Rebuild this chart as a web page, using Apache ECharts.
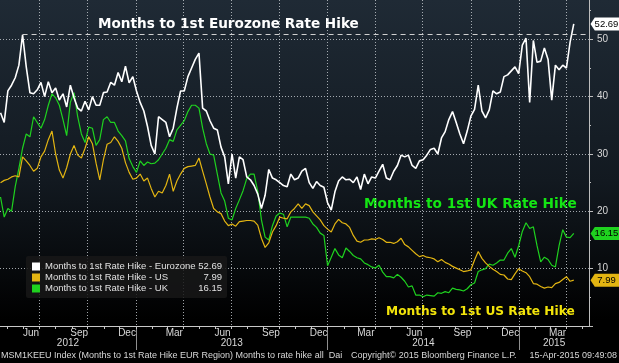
<!DOCTYPE html>
<html><head><meta charset="utf-8">
<script src="https://cdn.jsdelivr.net/npm/echarts@6/dist/echarts.min.js"></script>
<style>html,body{margin:0;padding:0;background:#000}#c{width:619px;height:363px}</style>
</head><body><div id="c"></div>
<script>
// ---------- data (weekly readings, first reading 2012-04-18) ----------
const seriesNames = ['Months to 1st Rate Hike - Eurozone', 'Months to 1st Rate Hike - US', 'Months to 1st Rate Hike - UK'];
const firstDate = '2012-04-18';
const eurozone = [37.2,35.5,41.0,42.0,43.3,45.5,50.8,45.2,40.7,40.5,41.2,42.5,40.0,42.6,40.7,41.5,39.4,40.5,38.2,42.0,
39.8,38.0,37.5,39.2,37.7,40.0,38.5,38.5,40.7,40.8,42.5,42.0,44.2,42.6,45.3,42.4,43.5,41.0,39.0,37.5,
34.8,31.5,30.0,36.5,36.0,35.5,33.0,34.5,38.0,41.0,41.0,43.5,45.0,46.5,47.6,38.0,37.5,35.8,34.5,34.2,
31.2,29.5,24.8,30.0,25.8,29.5,29.0,26.0,25.5,24.5,23.0,20.5,22.8,27.3,25.8,25.5,25.0,24.5,24.3,26.5,
25.5,25.8,27.0,27.5,25.0,24.0,25.2,24.5,24.2,21.5,20.2,23.4,25.3,26.0,25.5,25.6,25.0,26.0,23.8,26.5,
24.8,26.0,25.8,27.0,28.2,25.8,25.5,27.0,28.0,29.8,29.5,29.8,28.0,27.5,28.8,29.0,29.8,30.8,31.0,30.0,
32.8,33.9,36.0,37.4,35.5,33.5,31.8,34.0,36.6,37.8,42.0,37.5,36.3,37.7,41.0,40.5,40.8,43.5,43.8,44.5,
45.2,44.0,49.0,50.2,39.0,49.8,46.0,46.2,48.5,46.5,39.4,45.5,44.7,45.5,45.0,49.5,52.69];
const us = [25.0,25.4,25.6,26.0,26.2,26.0,29.5,28.8,28.0,27.0,27.5,29.5,30.5,32.5,34.0,30.0,27.2,25.8,27.6,30.0,
31.5,29.8,29.3,31.0,33.0,31.8,28.4,25.5,29.0,31.7,32.0,33.0,32.2,31.0,28.5,26.8,25.6,25.8,26.5,25.3,
25.8,24.0,22.5,23.5,23.2,24.5,26.5,23.5,25.3,26.5,27.5,27.8,27.9,28.0,29.3,27.0,24.8,22.5,20.5,19.9,
19.6,18.3,17.5,17.8,17.4,18.2,18.3,18.4,18.4,18.3,17.6,15.3,13.7,14.5,16.4,17.5,19.0,18.8,18.7,19.9,
20.5,21.3,20.5,21.3,21.0,19.9,19.2,18.5,17.5,16.9,16.4,17.8,18.6,18.0,17.8,17.2,15.8,14.8,14.6,15.0,
15.0,15.2,15.1,15.4,15.1,14.6,14.6,14.4,14.7,15.3,14.2,13.8,13.2,12.6,12.1,12.3,12.0,11.9,11.7,11.2,
11.6,11.1,10.8,10.4,10.1,9.8,9.5,9.6,9.8,11.5,13.0,11.8,11.0,10.4,9.9,9.5,9.0,8.9,8.2,8.1,
9.1,10.0,9.6,9.3,8.6,7.4,7.3,6.9,6.6,6.8,6.7,7.4,7.6,8.1,8.6,7.8,7.99];
const uk = [22.5,19.0,20.5,20.0,24.3,27.5,31.0,33.5,33.0,36.5,35.5,34.5,36.0,38.5,40.5,39.8,38.5,36.0,33.2,39.0,
40.7,36.5,33.5,32.0,34.7,34.5,31.5,32.5,36.0,36.5,35.5,35.5,34.0,33.2,32.3,29.2,27.8,26.8,28.8,28.0,
28.6,28.3,28.4,29.0,30.0,31.0,32.5,32.2,34.2,35.0,35.8,37.4,38.5,38.5,38.0,34.5,31.8,30.0,29.8,26.5,
23.2,21.8,18.8,18.5,20.5,22.0,23.6,25.7,26.5,26.5,23.5,18.5,15.5,15.0,17.5,19.2,19.7,19.5,17.3,19.0,
19.0,19.0,19.0,19.0,18.8,17.8,17.2,16.2,15.8,10.5,12.0,13.5,12.4,11.9,13.6,13.0,12.3,11.9,11.7,11.0,
10.7,10.3,10.1,10.6,9.4,8.6,8.6,8.4,9.0,8.5,7.8,6.8,7.0,5.4,5.4,5.1,5.4,5.3,5.2,5.8,
5.7,6.0,5.8,6.6,6.4,6.3,6.1,6.5,7.2,7.5,9.5,9.8,10.0,10.8,10.6,11.0,11.5,11.5,12.7,13.5,
12.0,14.0,16.5,18.0,17.0,17.3,14.0,11.2,12.0,11.6,10.6,10.3,14.0,16.8,15.5,15.4,16.15];

// ---------- axis / tick labels ----------
const axisStart = '2012-04-17', axisEnd = '2015-05-14';
const monthLabelDates = ['2012-06-15','2012-09-15','2012-12-15','2013-03-15','2013-06-15','2013-09-15','2013-12-15','2014-03-15','2014-06-15','2014-09-15','2014-12-15','2015-03-15'];
const monthLabelTexts = ['Jun','Sep','Dec','Mar','Jun','Sep','Dec','Mar','Jun','Sep','Dec','Mar'];
const quarterLines = ['2012-07-01','2012-10-01','2013-01-01','2013-04-01','2013-07-01','2013-10-01','2014-01-01','2014-04-01','2014-07-01','2014-10-01','2015-01-01','2015-04-01'];
const yearBreaks = ['2013-01-01','2014-01-01','2015-01-01'];
const yearLabels = ['2012','2013','2014','2015'];
const yTicks = {min: 0, max: 60, interval: 10};

// ---------- helpers ----------
const ts = s => { const [y, m, d] = s.split('-').map(Number); return Date.UTC(y, m - 1, d); };
const f0 = firstDate.split('-').map(Number);
const dates = eurozone.map((_, i) => Date.UTC(f0[0], f0[1] - 1, f0[2] + 7 * i));
const pairs = vals => vals.map((v, i) => [dates[i], v]);
const X_MIN = ts(axisStart), X_MAX = ts(axisEnd);
const monthLabelTs = monthLabelDates.map(ts);
const quarterTs = quarterLines.map(ts);
const monthStarts = [];
for (let k = 0; ; k++) { const t = Date.UTC(2012, 4 + k, 1); if (t > X_MAX) break; monthStarts.push(t); }
const yearBreakTs = yearBreaks.map(ts);
const bounds = [X_MIN, ...yearBreakTs, X_MAX];
const yearLabelTs = yearLabels.map((_, i) => Math.round((bounds[i] + bounds[i + 1]) / 2));
const last = a => a[a.length - 1];
const lastVals = {[seriesNames[0]]: last(eurozone), [seriesNames[1]]: last(us), [seriesNames[2]]: last(uk)};
const hist = eurozone.slice(0, -1);
const peakVal = Math.max(...hist);
const peakIdx = hist.indexOf(peakVal);

const FONT = '"Liberation Sans", Arial, sans-serif';
const TITLE_FONT = '"DejaVu Sans", sans-serif';
const COL = {eu: '#ffffff', us: '#e3b512', uk: '#1fd21f'};
const gridLine = {color: 'rgba(200,205,210,0.8)', width: 1, type: [1, 2]};
const nearest = (arr, v) => { let b = 0; arr.forEach((a, i) => { if (Math.abs(a - v) < Math.abs(arr[b] - v)) b = i; }); return b; };

function tag(color, value) {
  return {
    symbol: 'path://M0,6L5,0L34,0L34,12L5,12Z', symbolKeepAspect: false,
    symbolSize: [29, 13], symbolOffset: [16, 0], silent: true,
    itemStyle: {color},
    label: {show: true, position: 'inside', offset: [1.5, 0], color: '#000', fontSize: 9.5, fontFamily: FONT,
      formatter: () => value.toFixed(2)},
    data: [{coord: [X_MAX, value], value}]
  };
}

const chart = echarts.init(document.getElementById('c'), null, {renderer: 'canvas'});
chart.setOption({
  animation: false,
  backgroundColor: {type: 'linear', x: 0, y: 0, x2: 0, y2: 1, colorStops: [
    {offset: 0, color: '#1f2a35'}, {offset: 0.5, color: '#121920'}, {offset: 0.88, color: '#000000'}, {offset: 1, color: '#000000'}]},
  grid: {left: 0, right: 30, top: -18, bottom: 37, containLabel: false, outerBoundsMode: 'none'},
  xAxis: [{
    type: 'value', min: X_MIN, max: X_MAX, position: 'bottom', z: 5,
    axisLine: {show: true, lineStyle: {color: '#c8c8c8', width: 1}},
    axisTick: {show: true, customValues: monthStarts, length: 3, lineStyle: {color: '#c8c8c8'}},
    axisLabel: {customValues: monthLabelTs, margin: 2, color: '#d8d8d8', fontSize: 10, fontFamily: FONT,
      formatter: v => monthLabelTexts[nearest(monthLabelTs, v)]},
    splitLine: {show: false}
  }, {
    type: 'value', min: X_MIN, max: X_MAX, position: 'bottom',
    axisLine: {show: false},
    axisTick: {show: true, customValues: yearBreakTs, length: 24, lineStyle: {color: '#8f8f8f'}},
    axisLabel: {customValues: yearLabelTs, margin: 12, color: '#d8d8d8', fontSize: 10, fontFamily: FONT,
      formatter: v => yearLabels[nearest(yearLabelTs, v)]},
    splitLine: {show: false}
  }, {
    type: 'value', min: X_MIN, max: X_MAX, position: 'top',
    axisLine: {show: false},
    axisTick: {show: false, customValues: quarterTs},
    axisLabel: {show: false, customValues: quarterTs},
    splitLine: {show: true, lineStyle: gridLine}
  }],
  yAxis: {
    type: 'value', position: 'right', min: yTicks.min, max: yTicks.max, interval: yTicks.interval,
    axisLine: {show: true, lineStyle: {color: '#bdbdbd'}},
    axisTick: {show: true, length: 4, lineStyle: {color: '#bdbdbd'}},
    minorTick: {show: true, splitNumber: 2, length: 2, lineStyle: {color: '#bdbdbd'}},
    axisLabel: {color: '#d8d8d8', fontSize: 10, margin: 8, fontFamily: FONT, showMinLabel: false},
    splitLine: {show: true, lineStyle: gridLine}
  },
  legend: {
    data: seriesNames, orient: 'vertical', left: 26, top: 256, padding: [5, 5, 4, 6],
    itemGap: 0, itemWidth: 8, itemHeight: 8, icon: 'rect', selectedMode: false,
    backgroundColor: 'rgba(24,24,24,0.85)', borderRadius: 2,
    textStyle: {color: '#e0e0e0', fontSize: 9.5, fontFamily: FONT, lineHeight: 11,
      rich: {n: {width: 147, fontSize: 9.5, lineHeight: 11, color: '#e0e0e0', fontFamily: FONT},
             v: {width: 30, align: 'right', fontSize: 9.5, lineHeight: 11, color: '#e0e0e0', fontFamily: FONT}}},
    formatter: name => `{n|${name}}{v|${lastVals[name].toFixed(2)}}`
  },
  series: [
    {type: 'line', name: seriesNames[2], data: pairs(uk), z: 2, showSymbol: false, symbol: 'none',
      lineStyle: {color: COL.uk, width: 1.2}, itemStyle: {color: COL.uk}, markPoint: tag(COL.uk, last(uk))},
    {type: 'line', name: seriesNames[1], data: pairs(us), z: 3, showSymbol: false, symbol: 'none',
      lineStyle: {color: COL.us, width: 1.2}, itemStyle: {color: COL.us}, markPoint: tag(COL.us, last(us))},
    {type: 'line', name: seriesNames[0], data: pairs(eurozone), z: 4, showSymbol: false, symbol: 'none',
      lineStyle: {color: COL.eu, width: 1.6}, itemStyle: {color: COL.eu}, markPoint: tag(COL.eu, last(eurozone)),
      markLine: {silent: true, symbol: ['none', 'none'], label: {show: false}, animation: false,
        lineStyle: {color: '#d0d0d0', type: [5, 4], width: 1},
        data: [[{coord: [dates[peakIdx], peakVal]}, {coord: [X_MAX, peakVal]}]]}}
  ],
  graphic: [
    {type: 'text', x: 98, y: 24, silent: true, style: {text: 'Months to 1st Eurozone Rate Hike', fill: '#ffffff',
      font: 'bold 13.6px ' + TITLE_FONT, verticalAlign: 'middle'}},
    {type: 'text', x: 364, y: 204, silent: true, style: {text: 'Months to 1st UK Rate Hike', fill: '#14e614',
      font: 'bold 13.7px ' + TITLE_FONT, verticalAlign: 'middle'}},
    {type: 'text', x: 386, y: 312, silent: true, style: {text: 'Months to 1st US Rate Hike', fill: '#f2e40a',
      font: 'bold 12.2px ' + TITLE_FONT, verticalAlign: 'middle'}},
    {type: 'text', x: 1, y: 356, silent: true, style: {text: 'MSM1KEEU Index (Months to 1st Rate Hike EUR Region) Months to rate hike all  Dai',
      fill: '#d8d8d8', font: '9px ' + FONT, verticalAlign: 'middle'}},
    {type: 'text', x: 351, y: 356, silent: true, style: {text: 'Copyright\u00a9 2015 Bloomberg Finance L.P.',
      fill: '#d8d8d8', font: '9px ' + FONT, verticalAlign: 'middle'}},
    {type: 'text', x: 617, y: 356, silent: true, style: {text: '15-Apr-2015 09:49:08',
      fill: '#d8d8d8', font: '9px ' + FONT, verticalAlign: 'middle', align: 'right'}}
  ]
});
</script>
</body></html>
